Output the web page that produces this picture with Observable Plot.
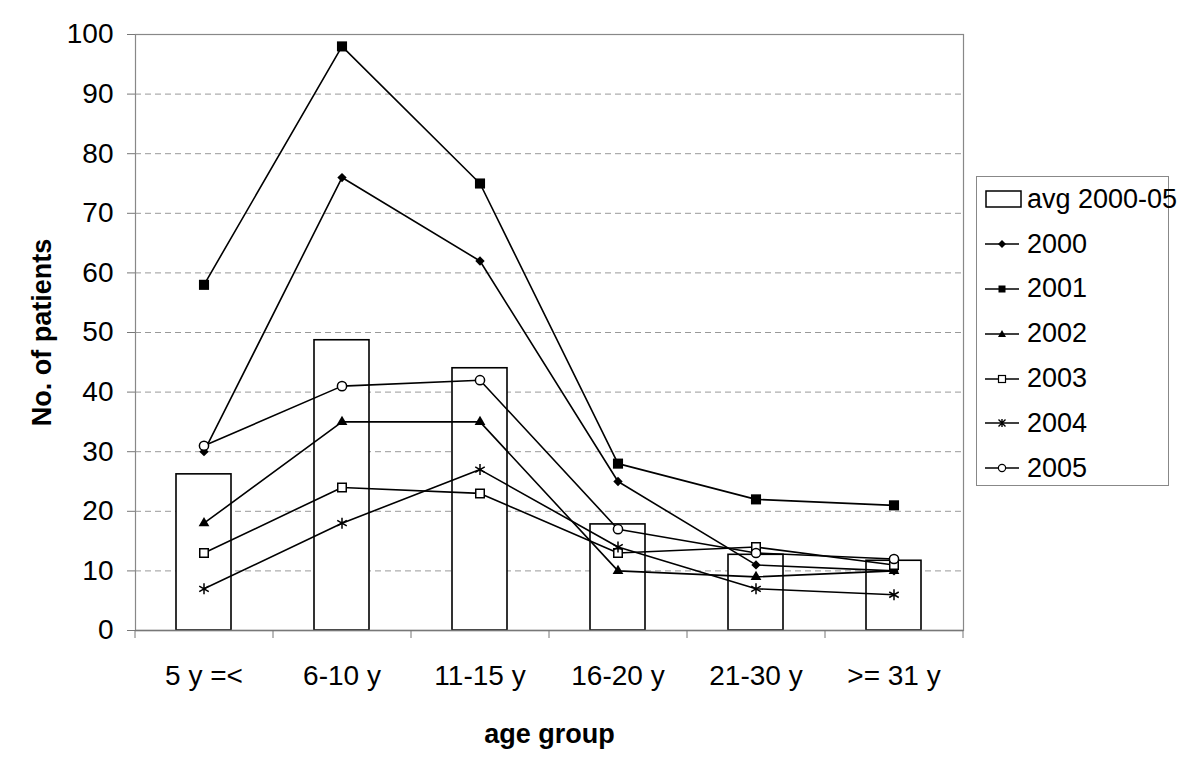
<!DOCTYPE html>
<html>
<head>
<meta charset="utf-8">
<script src="https://cdn.jsdelivr.net/npm/d3@7"></script>
<script src="https://cdn.jsdelivr.net/npm/@observablehq/plot@0.6"></script>
<style>
  html, body { margin: 0; padding: 0; background: #fff; }
  body { font-family: "Liberation Sans", Arial, sans-serif; }
  #wrap { position: relative; width: 1200px; height: 761px; }
  #chart svg text { font-family: "Liberation Sans", Arial, sans-serif; }
  #chart svg [aria-label="x-axis label"], #chart svg [aria-label="y-axis label"] { font-weight: bold; font-size: 27px; }
  #legend { position: absolute; left: 976px; top: 176px; width: 193px; height: 310px; border: 1px solid #888; box-sizing: border-box; background: #fff; padding-top: 0px; }
  .row { display: flex; align-items: center; height: 44.8px; font-size: 27px; color: #000; white-space: nowrap; }
  .row svg { margin-left: 8px; margin-right: 5px; flex: none; }
</style>
</head>
<body>
<div id="wrap">
  <div id="chart"></div>
  <div id="legend"></div>
</div>
<script>
const ageGroups = ["5 y =<", "6-10 y", "11-15 y", "16-20 y", "21-30 y", ">= 31 y"];
const avg2000_05 = [26.2, 48.7, 44.0, 17.8, 12.7, 11.7];
const y2000 = [30, 76, 62, 25, 11, 10];
const y2001 = [58, 98, 75, 28, 22, 21];
const y2002 = [18, 35, 35, 10, 9, 10];
const y2003 = [13, 24, 23, 13, 14, 11];
const y2004 = [7, 18, 27, 14, 7, 6];
const y2005 = [31, 41, 42, 17, 13, 12];
const yTicks = [0, 10, 20, 30, 40, 50, 60, 70, 80, 90, 100];

const seriesList = [
  {name: "2000", values: y2000, symbol: "diamond2", fill: "black", stroke: "none", r: 4.2},
  {name: "2001", values: y2001, symbol: "square", fill: "black", stroke: "none", r: 5.7},
  {name: "2002", values: y2002, symbol: "triangle", fill: "black", stroke: "none", r: 4},
  {name: "2003", values: y2003, symbol: "square", fill: "white", stroke: "black", r: 4.8},
  {name: "2004", values: y2004, symbol: "asterisk", fill: "none", stroke: "black", r: 5.2},
  {name: "2005", values: y2005, symbol: "circle", fill: "white", stroke: "black", r: 4.6}
];

const bars = ageGroups.map((g, i) => ({group: g, value: avg2000_05[i]}));
const pts = seriesList.map(s => ageGroups.map((g, i) => ({group: g, value: s.values[i], series: s.name})));

const marks = [
  Plot.gridY(yTicks.filter(t => t > 0 && t < 100), {stroke: "#999", strokeOpacity: 1, strokeDasharray: "6,4", strokeWidth: 1}),
  Plot.barY(bars, {x: "group", y: "value", fill: "white", stroke: "black", strokeWidth: 1.6}),
  Plot.frame({stroke: "#888", strokeWidth: 1.2}),
  Plot.ruleY([0], {stroke: "#777", strokeWidth: 1.5}),
  Plot.ruleX(ageGroups, {x: d => d, dx: -69, y1: 0, y2: 0, insetBottom: -8, stroke: "#777"}),
  Plot.ruleX(ageGroups.slice(-1), {x: d => d, dx: 69, y1: 0, y2: 0, insetBottom: -8, stroke: "#777"}),
  Plot.axisY({ticks: yTicks, tickSize: 8, tickPadding: 14, fontSize: 28, stroke: "#777", label: "No. of patients", labelAnchor: "center", labelArrow: "none", labelOffset: 104}),
  Plot.axisX({tickSize: 0, tickPadding: 35, fontSize: 28, label: "age group", labelAnchor: "center", labelArrow: "none", labelOffset: 112})
];
seriesList.forEach((s, k) => {
  marks.push(Plot.line(pts[k], {x: "group", y: "value", stroke: "black", strokeWidth: 1.6}));
  marks.push(Plot.dot(pts[k], {x: "group", y: "value", symbol: () => s.symbol, r: s.r, fill: s.fill, stroke: s.stroke, strokeWidth: s.stroke === "none" ? 0 : 1.5}));
});

const chart = Plot.plot({
  width: 1200,
  height: 761,
  marginLeft: 135,
  marginTop: 34,
  marginRight: 237,
  marginBottom: 131,
  x: {type: "band", domain: ageGroups, paddingInner: 0.6, paddingOuter: 0.3},
  y: {domain: [0, 100]},
  symbol: {type: "identity"},
  style: {fontSize: "28px", color: "black"},
  marks
});
document.getElementById("chart").appendChild(chart);

// Legend (HTML)
const legend = document.getElementById("legend");
function addRow(svgInner, label) {
  const row = document.createElement("div");
  row.className = "row";
  row.innerHTML = `<svg width="37" height="24" viewBox="0 0 37 24">${svgInner}</svg><span>${label}</span>`;
  legend.appendChild(row);
}
addRow(`<rect x="1" y="4" width="35" height="16" fill="white" stroke="black" stroke-width="1.5"/>`, "avg 2000-05");
const symPaths = {
  "2000": `<path d="M17,8 L21,12 L17,16 L13,12 Z" fill="black"/>`,
  "2001": `<rect x="13.5" y="8.5" width="7" height="7" fill="black"/>`,
  "2002": `<path d="M17,8 L21,15 L13,15 Z" fill="black"/>`,
  "2003": `<rect x="13.5" y="8.5" width="7" height="7" fill="white" stroke="black" stroke-width="1.2"/>`,
  "2004": `<path d="M17,8 V16 M13.5,8.5 L20.5,15.5 M20.5,8.5 L13.5,15.5" stroke="black" stroke-width="1.4"/>`,
  "2005": `<circle cx="17" cy="12" r="3.6" fill="white" stroke="black" stroke-width="1.2"/>`
};
seriesList.forEach(s => {
  addRow(`<line x1="0" y1="12" x2="34" y2="12" stroke="black" stroke-width="1.5"/>${symPaths[s.name]}`, s.name);
});
</script>
</body>
</html>
